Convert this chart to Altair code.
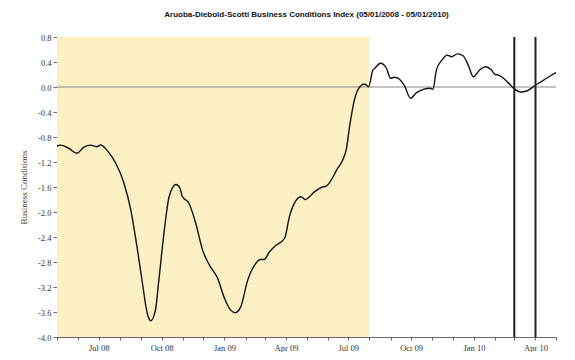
import altair as alt
import pandas as pd

dates = ["2008/05/01","2008/05/06","2008/05/18","2008/05/30","2008/06/09","2008/06/19","2008/06/28",
         "2008/07/04","2008/07/13","2008/07/26","2008/08/07","2008/08/17","2008/08/26","2008/09/03",
         "2008/09/10","2008/09/15","2008/09/22","2008/09/27","2008/10/05","2008/10/12","2008/10/22",
         "2008/10/28","2008/10/31","2008/11/10","2008/11/20","2008/11/30","2008/12/10","2008/12/22",
         "2009/01/01","2009/01/10","2009/01/17","2009/01/25","2009/02/04","2009/02/14","2009/02/23",
         "2009/02/28","2009/03/08","2009/03/15","2009/03/30","2009/04/06","2009/04/16","2009/04/23",
         "2009/04/29","2009/05/13","2009/05/23","2009/05/30","2009/06/14","2009/06/28","2009/07/03",
         "2009/07/10","2009/07/18","2009/07/25","2009/07/31","2009/08/06","2009/08/09","2009/08/17",
         "2009/08/26","2009/09/01","2009/09/07","2009/09/14","2009/09/22","2009/09/30","2009/10/09",
         "2009/10/19","2009/10/29","2009/11/02","2009/11/07","2009/11/15","2009/11/23","2009/11/29",
         "2009/12/08","2009/12/16","2009/12/24","2009/12/31","2010/01/10","2010/01/18","2010/01/26",
         "2010/02/01","2010/02/06","2010/02/13","2010/02/20","2010/02/28","2010/03/10","2010/03/20",
         "2010/04/01","2010/04/13","2010/04/23","2010/05/01"]
values = [-0.944,-0.93,-0.98,-1.06,-0.965,-0.93,-0.955,
          -0.928,-1.01,-1.22,-1.54,-1.97,-2.555,-3.14,
          -3.62,-3.74,-3.57,-3.09,-2.29,-1.755,-1.56,
          -1.62,-1.744,-1.86,-2.18,-2.61,-2.85,-3.06,
          -3.38,-3.57,-3.61,-3.51,-3.09,-2.85,-2.76,
          -2.76,-2.635,-2.555,-2.42,-2.075,-1.81,-1.755,
          -1.80,-1.675,-1.605,-1.585,-1.33,-1.01,-0.635,
          -0.21,0.005,0.048,0.005,0.27,0.30,0.38,
          0.30,0.14,0.155,0.123,0.005,-0.18,-0.09,
          -0.037,-0.02,-0.037,0.27,0.43,0.51,0.485,
          0.53,0.50,0.34,0.165,0.28,0.325,0.28,
          0.20,0.19,0.14,0.07,-0.02,-0.08,-0.06,
          0.03,0.11,0.18,0.23]

shade_start = ["2008/05/01"]
shade_end = ["2009/08/01"]
shade_lo = [-4.0]
shade_hi = [0.8]
marker_dates = ["2010/03/01", "2010/04/01"]
zero_level = [0.0]

y_ticks = [-4.0, -3.6, -3.2, -2.8, -2.4, -2.0, -1.6, -1.2, -0.8, -0.4, 0.0, 0.4, 0.8]

df = pd.DataFrame({"date": dates, "value": values})
shade_df = pd.DataFrame({"date": shade_start, "end": shade_end, "value": shade_lo, "hi": shade_hi})
marks_df = pd.DataFrame({"date": marker_dates})
zero_df = pd.DataFrame({"value": zero_level})

month_ticks = []
for yr in (2008, 2009, 2010):
    for m in range(1, 13):
        if (yr == 2008 and m < 5) or (yr == 2010 and m > 5):
            continue
        month_ticks.append(alt.DateTime(year=yr, month=m, date=1))

x_scale = alt.Scale(domain=[alt.DateTime(year=2008, month=5, date=1),
                            alt.DateTime(year=2010, month=5, date=1)])
y_scale = alt.Scale(domain=[-4.0, 0.8], nice=False, zero=False)

serif = "Liberation Serif"

x_axis = alt.Axis(
    values=month_ticks,
    labelExpr="month(datum.value) % 3 == 0 ? timeFormat(datum.value, '%b %y') : ''",
    title=None, grid=False, tickSize=3, labelPadding=3, labelFont=serif,
    labelFontSize=8.5, labelColor="#333", domainColor="#666", tickColor="#666",
    labelOverlap=False, labelFlush=False,
)
y_axis = alt.Axis(
    values=y_ticks,
    labelExpr="replace(format(datum.value, '.1f'), '\u2212', '-')",
    title="Business Conditions", titleFont=serif, titleFontSize=9,
    titleFontWeight="normal", titleColor="#333", titlePadding=9,
    grid=False, tickSize=4, labelPadding=2, labelFont=serif, labelFontSize=8.5,
    labelColor="#333", domainColor="#666", tickColor="#666",
)

X = alt.X("date:T", scale=x_scale, axis=x_axis)
Y = alt.Y("value:Q", scale=y_scale, axis=y_axis)

shade = alt.Chart(shade_df).mark_rect(color="#FBF0C4").encode(
    x=X, x2="end:T", y=Y, y2="hi:Q",
)

zero = alt.Chart(zero_df).mark_rule(color="#888888", strokeWidth=1).encode(y=Y)

line = alt.Chart(df).mark_line(color="#111111", strokeWidth=1.4, interpolate="monotone").encode(
    x=X, y=Y,
)

vlines = alt.Chart(marks_df).mark_rule(color="#222222", strokeWidth=2).encode(x=X)

chart = alt.layer(shade, zero, line, vlines).properties(
    width=499, height=300,
    background="white",
    autosize=alt.AutoSizeParams(type="none"),
    padding={"left": 49, "top": 29, "right": 11, "bottom": 15},
    title=alt.TitleParams(
        "Aruoba-Diebold-Scotti Business Conditions Index (05/01/2008 - 05/01/2010)",
        font="Liberation Sans", fontSize=8, fontWeight="bold", color="#111",
        anchor="middle", offset=14,
    ),
).configure_view(stroke=None)

chart.save("out.html", embed_options={"renderer": "svg", "actions": False})
